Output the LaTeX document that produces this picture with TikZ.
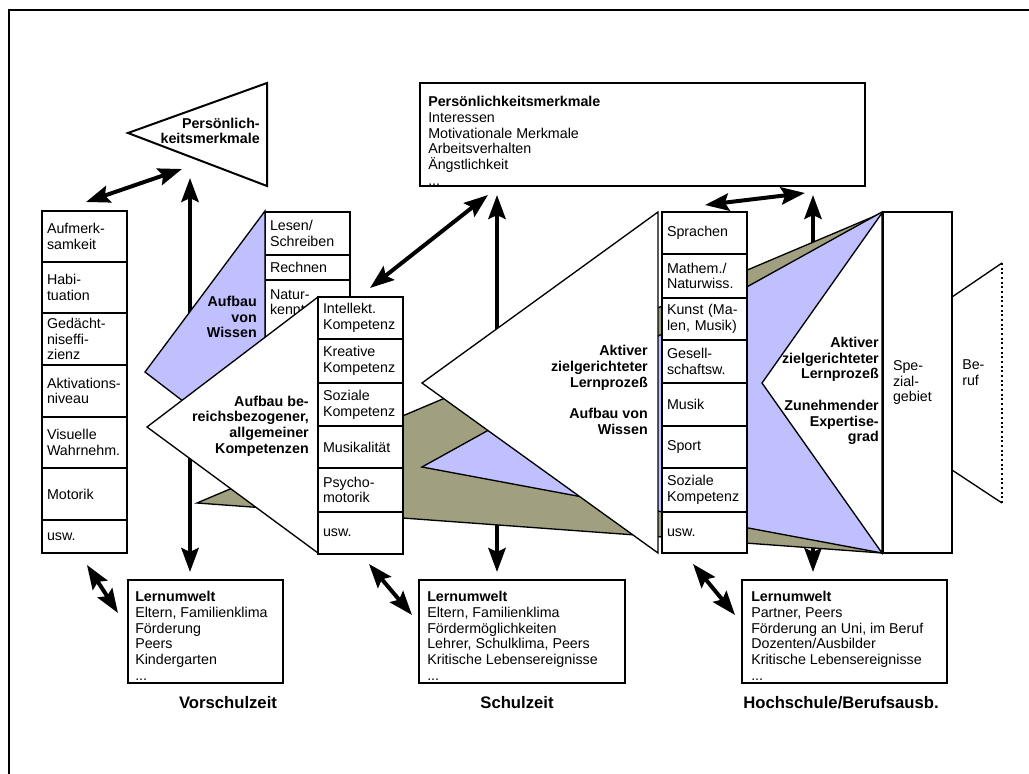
\documentclass[tikz,border=0pt]{standalone}
\usepackage{fontspec}
\setmainfont{Liberation Sans}
\usetikzlibrary{arrows.meta}
\definecolor{wissenblau}{RGB}{192,192,255}
\definecolor{lernoliv}{RGB}{160,160,128}
\hyphenpenalty=10000
\exhyphenpenalty=10000

\begin{document}
\fontsize{10.7pt}{11.8pt}\selectfont
\begin{tikzpicture}[x=0.75pt, y=-0.75pt, >={Stealth[length=18pt,width=13pt,inset=3pt]},
	pfeil/.style={<->, line width=3pt},
	fach/.style={draw, fill=white, line width=1.5pt, anchor=north west, outer sep=0pt, inner xsep=3.75pt, inner ysep=0pt, text width=56.25pt, align=left, minimum height=#1*0.75pt},
	kasten/.style={draw, fill=white, line width=1.5pt, anchor=north west, outer sep=0pt, inner sep=0pt},
	liste/.style={anchor=north west, align=left, inner sep=0pt},
	fett/.style={anchor=east, align=right, font=\bfseries, inner sep=0pt},
	phase/.style={font=\fontsize{12.5pt}{14pt}\selectfont\bfseries},
	flaeche/.style={draw, line width=1pt}]
		\useasboundingbox (0,0) rectangle (1029,774);
		% Rahmen
		\draw[line width=1.5pt] (9,774) -- (9,10) -- (1029,10);
		% senkrechte Pfeile, liegen hinter den Flaechen
		\coordinate (v1o) at (190,178); \coordinate (v1u) at (190,572);
		\coordinate (v2o) at (497,195); \coordinate (v2u) at (497,572);
		\coordinate (v3o) at (813,195); \coordinate (v3u) at (813,572);
		\draw[pfeil] (v1o) -- (v1u);
		\draw[pfeil] (v2o) -- (v2u);
		\draw[pfeil] (v3o) -- (v3u);
		% Vorschulzeit: Wissen
		\node[fach=43] (lesen) at (265,212) {Lesen/\\Schreiben};
		\node[fach=25] (rechnen) at (265,255) {Rechnen};
		\node[fach=60] (natur) at (265,280) {Natur-\\kenntnisse\\~};
		\filldraw[flaeche, fill=wissenblau] (145,372) -- (265,211) -- (265,464) -- cycle;
		\node[fett] (wissen1) at (257,317) {Aufbau\\von\\Wissen};
		% Flaechen ueber alle Phasen
		\filldraw[flaeche, fill=lernoliv] (197,503) -- (882,213) -- (882,553) -- cycle;
		\filldraw[flaeche, fill=wissenblau] (422,467) -- (882,212) -- (882,553) -- cycle;
		% Vorschulzeit: Kompetenzen
		\filldraw[flaeche, fill=white] (147,427) -- (318,297) -- (318,553) -- cycle;
		\node[fett] (kompetenz) at (309,426) {Aufbau be-\\reichsbezogener,\\allgemeiner\\Kompetenzen};
		\node[fach=42] (intellekt) at (318,297) {Intellekt.\\Kompetenz};
		\node[fach=44] (kreativ) at (318,339) {Kreative\\Kompetenz};
		\node[fach=43] (sozial1) at (318,383) {Soziale\\Kompetenz};
		\node[fach=42] (musikal) at (318,426) {Musikalität};
		\node[fach=44] (psycho) at (318,468) {Psycho-\\motorik};
		\node[fach=42] (usw2) at (318,512) {usw.};
		% Schulzeit
		\filldraw[flaeche, fill=white] (422,383) -- (658,212) -- (658,553) -- cycle;
		\node[fett] (lernen2) at (648,390) {Aktiver\\zielgerichteter\\Lernprozeß\\~\\Aufbau von\\Wissen};
		\node[fach=42] (sprachen) at (662,212) {Sprachen};
		\node[fach=44] (mathe) at (662,254) {Mathem./\\Naturwiss.};
		\node[fach=42] (kunst) at (662,298) {Kunst (Ma-\\len, Musik)};
		\node[fach=43] (gesell) at (662,340) {Gesell-\\schaftsw.};
		\node[fach=43] (musik) at (662,383) {Musik};
		\node[fach=42] (sport) at (662,426) {Sport};
		\node[fach=44] (sozial2) at (662,468) {Soziale\\Kompetenz};
		\node[fach=41] (usw3) at (662,512) {usw.};
		% Hochschule
		\filldraw[flaeche, fill=white] (762,383) -- (882,213) -- (882,553) -- cycle;
		\node[fett] (lernen3) at (879,391) {Aktiver\\zielgerichteter\\Lernprozeß\\~\\Zunehmender\\Expertise-\\grad};
		\node[fach=341, inner xsep=7.5pt, text width=36.75pt] (spezial) at (883,212) {Spe-\\zial-\\gebiet};
		\draw[line width=1pt] (952,297) -- (1002,263);
		\draw[line width=1pt] (952,470) -- (1002,503);
		\draw[line width=1.5pt, dotted] (1002,263) -- (1002,503);
		\node[anchor=west, align=left, inner sep=0pt] (beruf) at (962,373) {Be-\\ruf};
		% Persoenlichkeitsmerkmale
		\filldraw[flaeche, line width=1.5pt, fill=white] (128,133) -- (267,83) -- (267,186) -- cycle;
		\node[fett] (persklein) at (260,131) {Persönlich-\\keitsmerkmale};
		\node[kasten, minimum width=333.75pt, minimum height=77.25pt] (pers) at (420,83) {};
		\node[liste] (perstext) at (428,96) {\textbf{Persönlichkeitsmerkmale}\\Interessen\\Motivationale Merkmale\\Arbeitsverhalten\\Ängstlichkeit\\...};
		% Vorschulzeit: Grundfunktionen
		\node[fach=51] (aufmerk) at (42,211) {Aufmerk-\\samkeit};
		\node[fach=51] (habit) at (42,262) {Habi-\\tuation};
		\node[fach=52] (gedaecht) at (42,313) {Gedächt-\\niseffi-\\zienz};
		\node[fach=52] (aktiv) at (42,365) {Aktivations-\\niveau};
		\node[fach=51] (visuell) at (42,417) {Visuelle\\Wahrnehm.};
		\node[fach=52] (motorik) at (42,468) {Motorik};
		\node[fach=33] (usw1) at (42,520) {usw.};
		% Lernumwelt
		\node[kasten, minimum width=116.25pt, minimum height=77.25pt] (lern1) at (128,580) {};
		\node[liste] (lern1text) at (135,591) {\textbf{Lernumwelt}\\Eltern, Familienklima\\Förderung\\Peers\\Kindergarten\\...};
		\node[kasten, minimum width=154.5pt, minimum height=77.25pt] (lern2) at (419,580) {};
		\node[liste] (lern2text) at (427,591) {\textbf{Lernumwelt}\\Eltern, Familienklima\\Fördermöglichkeiten\\Lehrer, Schulklima, Peers\\Kritische Lebensereignisse\\...};
		\node[kasten, minimum width=153.75pt, minimum height=77.25pt] (lern3) at (742,580) {};
		\node[liste] (lern3text) at (751,591) {\textbf{Lernumwelt}\\Partner, Peers\\Förderung an Uni, im Beruf\\Dozenten/Ausbilder\\Kritische Lebensereignisse\\...};
		\node[phase] (vorschule) at (228,703) {Vorschulzeit};
		\node[phase] (schule) at (517,703) {Schulzeit};
		\node[phase] (hochschule) at (841,703) {Hochschule/Berufsausb.};
		% schraege Doppelpfeile
		\coordinate (d1a) at (86,202); \coordinate (d1b) at (182,169);
		\coordinate (d2a) at (87,565); \coordinate (d2b) at (118,613);
		\coordinate (d3a) at (370,288); \coordinate (d3b) at (488,195);
		\coordinate (d4a) at (369,564); \coordinate (d4b) at (412,615);
		\coordinate (d5a) at (705,205); \coordinate (d5b) at (805,193);
		\coordinate (d6a) at (693,564); \coordinate (d6b) at (735,615);
		\draw[pfeil] (d1a) -- (d1b);
		\draw[pfeil] (d2a) -- (d2b);
		\draw[pfeil] (d3a) -- (d3b);
		\draw[pfeil] (d4a) -- (d4b);
		\draw[pfeil] (d5a) -- (d5b);
		\draw[pfeil] (d6a) -- (d6b);
\end{tikzpicture}
\end{document}
